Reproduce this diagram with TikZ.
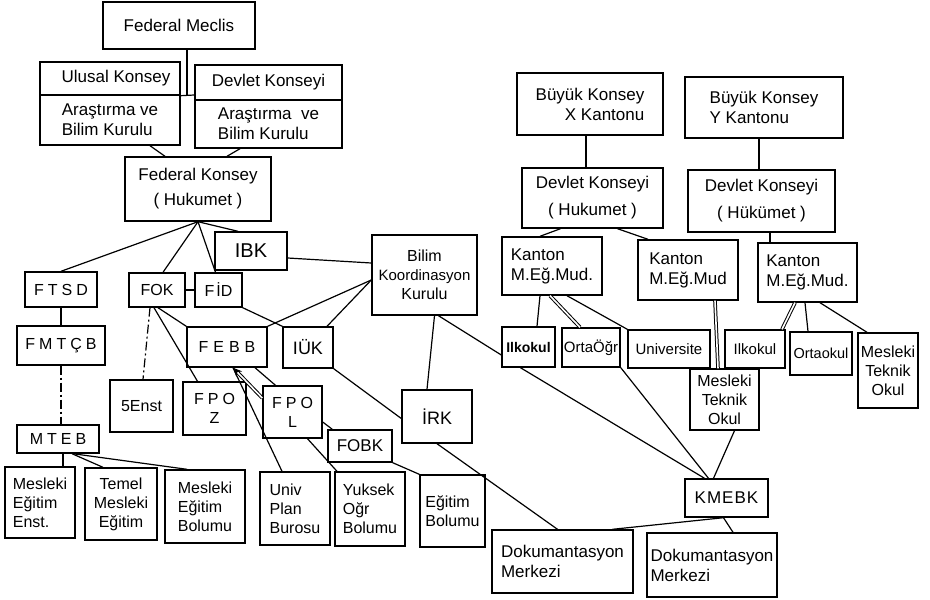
\documentclass[tikz,border=0pt]{standalone}
\usepackage{fontspec}
\setmainfont{Liberation Sans}
\usetikzlibrary{arrows.meta}
\newcommand\gp{\kern4pt}
\begin{document}
\begin{tikzpicture}[x=1pt,y=-1pt,line width=1.4pt,
  box/.style={draw,fill=white,inner sep=2pt,align=center,font=\fontsize{16}{19}\selectfont},
  lbox/.style={box,align=left},
  rbox/.style={box,align=right},
  small/.style={font=\fontsize{15}{18}\selectfont},
  big/.style={font=\fontsize{17}{20}\selectfont},
  conn/.style={line width=1.2pt},
  dbl/.style={line width=1pt,double,double distance=1.6pt},
  dsh/.style={line width=1.2pt,dash pattern=on 9pt off 3pt on 2pt off 3pt}]
\useasboundingbox (0,0) rectangle (930,600);

% ---------- left (federal) part ----------
\node[box,big,minimum width=152pt,minimum height=47pt] (meclis) at (179,25.5) {Federal Meclis};
\node[box,big,minimum width=140pt,minimum height=33pt] (ulusal) at (110,78.5) {\hspace*{12pt}Ulusal Konsey};
\node[lbox,big,minimum width=140pt,minimum height=50pt] (uarast) at (110,120) {Araştırma ve\\Bilim Kurulu};
\node[box,big,minimum width=147pt,minimum height=35pt] (devlet) at (268.5,82.5) {Devlet Konseyi};
\node[lbox,big,minimum width=147pt,minimum height=48pt] (darast) at (268.5,124) {Araştırma\ \ ve\\Bilim Kurulu};
\node[box,big,minimum width=146pt,minimum height=64pt] (fedk) at (198,189) {Federal Konsey\\[5pt]( Hukumet )};

\node[box,font=\fontsize{20}{22}\selectfont,minimum width=72pt,minimum height=38pt] (ibk) at (251,251) {IBK};
\node[box,minimum width=72pt,minimum height=35pt] (ftsd) at (61,289.5) {F\gp T\gp S\gp D};
\node[box,minimum width=56pt,minimum height=34pt] (fok) at (157,290) {FOK};
\node[box,minimum width=47pt,minimum height=34pt] (fid) at (218.5,290) {F\kern2ptİD};
\node[box,minimum width=88pt,minimum height=39pt] (fmtcb) at (61,345.5) {F\gp M\gp T\gp Ç\gp B};
\node[box,minimum width=82pt,minimum height=28pt] (mteb) at (58,439) {M\gp T\gp E\gp B};
\node[lbox,minimum width=70pt,minimum height=71pt] (mee) at (40,502.5) {Mesleki\\Eğitim\\Enst.};
\node[box,minimum width=72pt,minimum height=72pt] (temel) at (121,504) {Temel\\Mesleki\\Eğitim};
\node[lbox,minimum width=80pt,minimum height=73pt] (meb) at (205,506.5) {Mesleki\\Eğitim\\Bolumu};
\node[box,minimum width=63pt,minimum height=52pt] (enst) at (141.5,406) {5Enst};
\node[box,minimum width=80pt,minimum height=40pt] (febb) at (227,347) {F\kern5pt E\kern5pt B\kern5pt B};
\node[box,font=\fontsize{18}{20}\selectfont,minimum width=50pt,minimum height=41pt] (iuk) at (308,347.5) {IÜK};
\node[box,minimum width=105pt,minimum height=80pt] (bkk) at (424.5,275) {Bilim\\{\fontsize{15}{18}\selectfont Koordinasyon}\\Kurulu};
\node[box,minimum width=63pt,minimum height=53pt] (fpoz) at (214.5,408.5) {F\gp P\gp O\\Z};
\node[box,minimum width=59pt,minimum height=52pt] (fpol) at (292.5,412) {F\gp P\gp O\\L};
\node[box,big,minimum width=64pt,minimum height=32pt] (fobk) at (360,446) {FOBK};
\node[lbox,minimum width=70pt,minimum height=73pt] (upb) at (295,508.5) {Univ\\Plan\\Burosu};
\node[lbox,minimum width=70pt,minimum height=74pt] (yob) at (370,509) {Yuksek\\Oğr\\Bolumu};
\node[lbox,minimum width=65pt,minimum height=72pt] (eb) at (452.5,511) {Eğitim\\Bolumu};
\node[box,font=\fontsize{18}{20}\selectfont,minimum width=70pt,minimum height=53pt] (irk) at (437,416.5) {İRK};

% ---------- right (canton) part ----------
\node[rbox,big,minimum width=146pt,minimum height=62pt] (bkx) at (590,104) {Büyük Konsey\\X Kantonu};
\node[lbox,big,minimum width=158pt,minimum height=61pt] (bky) at (764,107.5) {Büyük Konsey\\Y Kantonu};
\node[box,big,minimum width=141pt,minimum height=60pt] (dkx) at (592.5,198) {Devlet Konseyi\\[7pt]( Hukumet )};
\node[box,big,minimum width=147pt,minimum height=62pt] (dky) at (761.5,201) {Devlet Konseyi\\[7pt]( Hükümet )};
\node[lbox,big,minimum width=100pt,minimum height=58pt] (k1) at (552,266) {Kanton\\M.Eğ.Mud.};
\node[lbox,big,minimum width=100pt,minimum height=60pt] (k2) at (688,270) {Kanton\\M.Eğ.Mud};
\node[lbox,big,minimum width=99pt,minimum height=59pt] (k3) at (807.5,272.5) {Kanton\\M.Eğ.Mud.};
\node[box,font=\fontsize{14}{16}\selectfont\bfseries,minimum width=53pt,minimum height=40pt] (ilk1) at (528.5,347) {Ilkokul};
\node[box,small,minimum width=58pt,minimum height=39pt] (orta1) at (591,347.5) {OrtaÖğr};
\node[box,small,minimum width=82pt,minimum height=38pt] (univ) at (669,349) {Universite};
\node[box,minimum width=69pt,minimum height=61pt] (mto2) at (724.5,399.5) {Mesleki\\Teknik\\Okul};
\node[box,small,minimum width=60pt,minimum height=38pt] (ilk3) at (755,349) {Ilkokul};
\node[box,font=\fontsize{14.5}{17}\selectfont,minimum width=62pt,minimum height=43pt] (orta3) at (821,353.5) {Ortaokul};
\node[box,minimum width=60pt,minimum height=75pt] (mto3) at (888,370.5) {Mesleki\\Teknik\\Okul};
\node[box,big,minimum width=83pt,minimum height=38pt] (kmebk) at (726.5,498) {K\kern1pt M\kern1pt E\kern1pt B\kern1pt K};
\node[lbox,big,minimum width=141pt,minimum height=63pt] (dok1) at (562.5,561.5) {Dokumantasyon\\Merkezi};
\node[lbox,big,minimum width=130pt,minimum height=64pt] (dok2) at (712,565) {Dokumantasyon\\Merkezi};

% ---------- connectors: federal ----------
\coordinate (j1) at (187,95);
\draw[conn] (j1 |- meclis.south) -- (j1);
\draw[conn] (ulusal.south east) -- (j1 -| devlet.west);
\draw[conn] ([xshift=40pt]uarast.south) -- ([xshift=-33pt]fedk.north);
\draw[conn] ([xshift=-28.5pt]darast.south) -- ([xshift=29pt]fedk.north);
\draw[conn] (fedk.south) -- (ftsd.north);
\draw[conn] (fedk.south) -- ([xshift=6pt]fok.north);
\draw[conn] (fedk.south) -- ([xshift=-3pt]fid.north);
\draw[conn] (fedk.south) -- ([xshift=-13pt]ibk.north);
\draw[conn] (fok.east) -- (fid.west);
\draw[conn] (ftsd.south) -- (ftsd.south |- fmtcb.north);
\draw[dsh] (fmtcb.south) -- (fmtcb.south |- mteb.north);
\draw[conn] ([xshift=5pt]mteb.south) -- ([xshift=5pt]mteb.south |- mee.north);
\draw[conn] ([xshift=14pt]mteb.south) -- ([xshift=-18pt]temel.north);
\draw[conn] ([xshift=15pt]mteb.south) -- ([xshift=-18pt]meb.north);
\draw[dsh] ([xshift=-7pt]fok.south) -- ([xshift=1.5pt]enst.north);
\draw[conn] ([xshift=-3pt]fok.south) -- ([xshift=-17pt]fpoz.north);
\draw[conn] ([xshift=1pt]fok.south) -- (febb.north west);
\draw[conn] (fid.south east) -- (iuk.north west);
\draw[conn] ([yshift=-7pt]ibk.east) -- ([yshift=12pt]bkk.west);
\draw[conn] ([yshift=-5pt]bkk.west) -- (febb.north east);
\draw[conn] ([yshift=-5pt]bkk.west) -- ([xshift=19pt]iuk.north);
\draw[conn] ([xshift=10pt]bkk.south) -- ([xshift=-10pt]irk.north);
\draw[conn] ([xshift=14pt]bkk.south) -- ([yshift=-8pt]ilk1.west);
\draw[conn] (iuk.south east) -- ([yshift=-2pt]irk.west);
\draw[conn] (irk.south) -- ([xshift=-5pt]dok1.north);
\draw[conn] ([xshift=6pt]febb.south) -- ([xshift=-13pt]upb.north);
\draw[dbl,{Stealth[length=9pt,width=8pt]}-] ([xshift=6pt]febb.south) -- ([yshift=14pt]fpol.west);
\draw[conn] ([xshift=28pt]febb.south) -- ([xshift=-17pt]fpol.north);
\draw[conn] ([xshift=15pt]fpol.south) -- ([xshift=-33pt]yob.north);
\draw[conn] ([yshift=-10pt]fpol.east) -- ([xshift=5pt]fobk.north west);
\draw[conn] (fobk.south east) -- (eb.north west);

% ---------- connectors: cantons ----------
\draw[conn] ([xshift=-4pt]bkx.south) -- ([xshift=-4pt]bkx.south |- dkx.north);
\draw[conn] ([xshift=-5pt]bky.south) -- ([xshift=-5pt]bky.south |- dky.north);
\draw[conn] ([xshift=-32pt]dkx.south) -- ([xshift=-12pt]k1.north);
\draw[conn] ([xshift=25pt]dkx.south) -- ([xshift=-40pt]k2.north);
\draw[conn] ([xshift=8.5pt]dky.south) -- ([xshift=8.5pt]dky.south |- k3.north);
\draw[conn] ([xshift=-12pt]k1.south) -- ([xshift=8.5pt]ilk1.north);
\draw[dbl] ([xshift=-2pt]k1.south) -- ([xshift=-11pt]orta1.north);
\draw[conn] ([xshift=15pt]k1.south) -- (univ.north west);
\draw[dbl] ([xshift=27pt]k2.south) -- ([xshift=-6.5pt]mto2.north);
\draw[dbl] ([xshift=-12.5pt]k3.south) -- ([xshift=27pt]ilk3.north);
\draw[conn] ([xshift=-2.5pt]k3.south) -- ([xshift=-13pt]orta3.north);
\draw[conn] ([xshift=12.5pt]k3.south) -- ([xshift=-21pt]mto3.north);
\draw[conn] ([xshift=-8pt]ilk1.south) -- ([xshift=-22pt]kmebk.north);
\draw[conn] (orta1.south east) -- ([xshift=-18pt]kmebk.north);
\draw[conn] ([xshift=10pt]mto2.south) -- ([xshift=-13pt]kmebk.north);
\draw[conn] ([xshift=-3pt]kmebk.south) -- ([xshift=50pt]dok1.north);
\draw[conn] ([xshift=-3pt]kmebk.south) -- ([xshift=21pt]dok2.north);
\end{tikzpicture}
\end{document}
